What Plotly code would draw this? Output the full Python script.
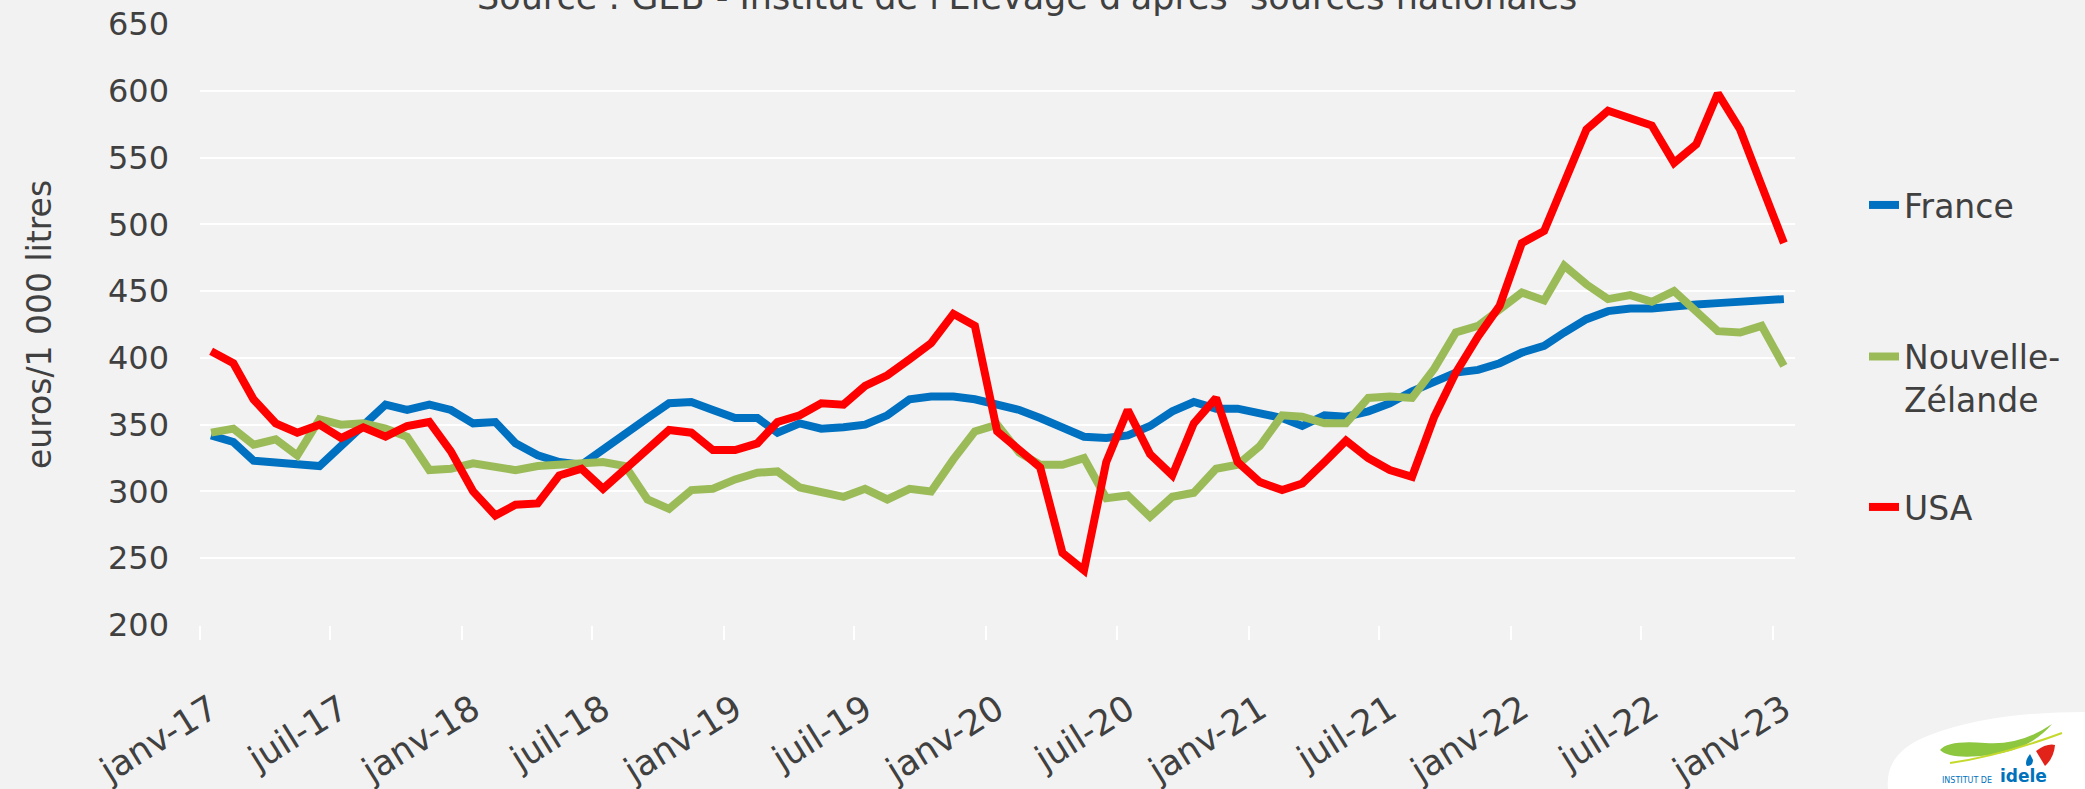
import pandas as pd
import plotly.graph_objects as go

# Monthly milk prices, euros per 1 000 litres, janv-2017 .. janv-2023
mois = pd.date_range("2017-01-01", "2023-01-01", freq="MS")

france = [
    342, 337, 323, 322, 321, 319, 334, 349, 365, 361, 365, 361,
    351, 352, 336, 327, 322, 320, 332, 344, 355, 366, 367, 361,
    355, 355, 344, 351, 347, 348, 350, 357, 369, 371, 371, 369,
    365, 361, 355, 348, 341, 340, 342, 349, 360, 367, 362, 362,
    359, 355, 349, 357, 356, 360, 366, 375, 382, 389, 391, 396,
    404, 409, 419, 429, 435, 437, 437, 439, 440, 441, 442, 443,
    444,
]

nouvelle_zelande = [
    344, 347, 335, 339, 327, 354, 350, 351, 347, 341, 316, 317,
    321, 319, 316, 319, 320, 322, 322, 319, 294, 287, 301, 302,
    309, 314, 315, 303, 299, 296, 302, 294, 302, 300, 324, 345,
    350, 329, 320, 320, 325, 295, 297, 281, 296, 299, 317, 320,
    334, 357, 356, 351, 351, 370, 371, 370, 392, 419, 424, 436,
    449, 443, 469, 455, 444, 447, 442, 450, 434, 420, 419, 424,
    394,
]

usa = [
    405, 396, 369, 351, 344, 350, 340, 348, 341, 349, 352, 330,
    300, 282, 290, 291, 312, 317, 302, 317, 330, 346, 344, 331,
    331, 336, 352, 357, 366, 365, 379, 387, 399, 411, 433, 424,
    345, 332, 318, 254, 241, 322, 361, 328, 312, 351, 370, 322,
    307, 301, 306, 322, 338, 325, 316, 311, 356, 389, 416, 439,
    486, 495, 531, 571, 585, 579, 574, 546, 560, 598, 571, 529,
    486,
]

tick_dates = pd.date_range("2017-01-01", "2023-01-01", freq="6MS")
tick_labels = [
    "janv-17", "juil-17", "janv-18", "juil-18", "janv-19", "juil-19",
    "janv-20", "juil-20", "janv-21", "juil-21", "janv-22", "juil-22",
    "janv-23",
]
# small white marks sit on the boundaries between monthly slots
boundary_marks = [d - pd.Timedelta(days=15.5) for d in tick_dates]

FONT = "DejaVu Sans"
TXT = "#404040"
BG = "#f2f2f2"

W, H = 2085, 789
L, R, T, B = 200, 290, 24, 164
PW, PH = W - L - R, H - T - B


def px(x):
    return (x - L) / PW


def py(y):
    return (H - B - y) / PH


series = [
    ("France", france, "#0070c0", "legend"),
    ("Nouvelle-<br>Zélande", nouvelle_zelande, "#9bbb59", "legend2"),
    ("USA", usa, "#ff0000", "legend3"),
]

fig = go.Figure()
for name, vals, color, leg in series:
    fig.add_trace(go.Scatter(
        x=mois, y=vals, name=name, mode="lines",
        line=dict(color=color, width=8),
        legend=leg,
    ))

leg_common = dict(
    font=dict(family=FONT, size=33, color=TXT),
    bgcolor="rgba(0,0,0,0)", xanchor="left", yanchor="middle",
    itemwidth=30, valign="top",
)
lx = px(1864)

fig.update_layout(
    width=W, height=H,
    margin=dict(l=L, r=R, t=T, b=B, autoexpand=False),
    paper_bgcolor=BG, plot_bgcolor=BG,
    font=dict(family=FONT, color=TXT),
    showlegend=True,
    legend=dict(x=lx, y=py(205), **leg_common),
    legend2=dict(x=lx, y=py(378), **leg_common),
    legend3=dict(x=lx, y=py(507), **leg_common),
    xaxis=dict(
        range=["2016-12-16 12:00", "2023-01-16 12:00"],
        tickvals=list(tick_dates), ticktext=tick_labels,
        tickangle=-32, ticks="", ticklabelstandoff=56,
        tickfont=dict(family=FONT, size=35, color=TXT),
        showgrid=False, zeroline=False, showline=False,
        minor=dict(tickvals=boundary_marks, ticks="outside", ticklen=14,
                   tickwidth=2, tickcolor="#ffffff", showgrid=False),
    ),
    yaxis=dict(
        range=[200, 650], tick0=200, dtick=50,
        ticks="", ticklabelstandoff=30,
        tickfont=dict(family=FONT, size=32, color=TXT),
        showgrid=True, gridcolor="#ffffff", gridwidth=2,
        zeroline=False, showline=False,
        title=dict(text="euros/1 000 litres", standoff=46,
                   font=dict(family=FONT, size=33, color=TXT)),
    ),
)

fig.add_annotation(
    text="Source : GEB - Institut de l'Elevage d'après  sources nationales",
    xref="paper", yref="paper", x=px(1027), y=py(19),
    xanchor="center", yanchor="bottom", showarrow=False,
    font=dict(family=FONT, size=35, color=TXT),
)

# idele logo badge in the bottom-right corner
logo_shapes = [
    dict(type="path",
         path=f"M {px(1888)},{py(789)} "
              f"Q {px(1884)},{py(752)} {px(1930)},{py(735)} "
              f"Q {px(1990)},{py(712)} {px(2085)},{py(712)} "
              f"L {px(2085)},{py(789)} Z",
         fillcolor="#ffffff", line=dict(width=0)),
    dict(type="path",
         path=f"M {px(1940)},{py(750)} Q {px(1948)},{py(740)} {px(1985)},{py(743)} "
              f"Q {px(2020)},{py(746)} {px(2052)},{py(724)} "
              f"Q {px(2030)},{py(750)} {px(1990)},{py(755)} "
              f"Q {px(1950)},{py(760)} {px(1940)},{py(750)} Z",
         fillcolor="#8dc63f", line=dict(width=0)),
    dict(type="path",
         path=f"M {px(1950)},{py(763)} Q {px(2000)},{py(756)} {px(2062)},{py(733)}",
         line=dict(color="#c5d92d", width=2)),
    dict(type="path",
         path=f"M {px(2036)},{py(751)} Q {px(2047)},{py(743)} {px(2055)},{py(745)} "
              f"Q {px(2054)},{py(758)} {px(2045)},{py(766)} Z",
         fillcolor="#e2231a", line=dict(width=0)),
    dict(type="path",
         path=f"M {px(2030)},{py(754)} Q {px(2024)},{py(762)} {px(2027)},{py(766)} "
              f"Q {px(2033)},{py(766)} {px(2033)},{py(760)} Z",
         fillcolor="#0072bc", line=dict(width=0)),
]
for s in logo_shapes:
    s.update(xref="paper", yref="paper", layer="above")
    fig.add_shape(**s)

fig.add_annotation(
    text="INSTITUT DE", xref="paper", yref="paper",
    x=px(1940), y=py(787), xanchor="left", yanchor="bottom",
    showarrow=False, font=dict(family=FONT, size=8, color="#0072bc"),
)
fig.add_annotation(
    text="<b>idele</b>", xref="paper", yref="paper",
    x=px(1998), y=py(788), xanchor="left", yanchor="bottom",
    showarrow=False, font=dict(family=FONT, size=17, color="#0072bc"),
)

fig.write_html("out.html")
